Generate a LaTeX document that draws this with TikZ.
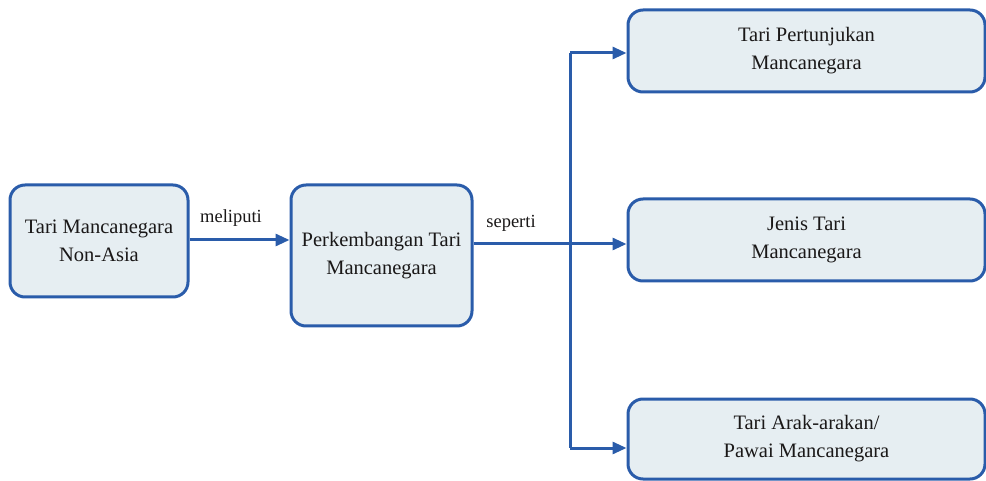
\documentclass[tikz,border=0pt]{standalone}
\usepackage{fontspec}
\setmainfont{Liberation Serif}
\usetikzlibrary{arrows.meta}
\definecolor{boxline}{HTML}{2A5CAA}
\definecolor{boxfill}{HTML}{E6EEF2}
\definecolor{txt}{HTML}{1A1818}
\begin{document}
\begin{tikzpicture}[x=1pt,y=-1pt,
  box/.style={draw=boxline, fill=boxfill, line width=3pt, rounded corners=15pt,
    align=center, text=txt, inner sep=0pt,
    font=\fontsize{20.5}{28}\selectfont},
  link/.style={draw=boxline, line width=3pt,
    -{Triangle[length=14pt,width=12pt]}},
  trunk/.style={draw=boxline, line width=3pt},
  lbl/.style={text=txt, font=\fontsize{18.5}{22}\selectfont}]
\useasboundingbox (0,0) rectangle (986,481);
% boxes
\node[box, minimum width=178pt, minimum height=112pt] (src) at (99,241)
  {Tari Mancanegara\\Non-Asia};
\node[box, minimum width=181pt, minimum height=141pt] (dev) at (381.5,255.5)
  {Perkembangan Tari\\Mancanegara};
\node[box, minimum width=357pt, minimum height=82pt] (c1) at (806.5,51)
  {Tari Pertunjukan\\Mancanegara};
\node[box, minimum width=357pt, minimum height=82pt] (c2) at (806.5,240)
  {Jenis Tari\\Mancanegara};
\node[box, minimum width=357pt, minimum height=80pt] (c3) at (806.5,439)
  {Tari Arak-arakan/\\Pawai Mancanegara};
% connectors
\draw[link] (src.east |- 0,240) -- (dev.west |- 0,240);
\node[lbl] (l1) at (231,218) {meliputi};
\coordinate (fork) at (570,244);
\coordinate (top) at (570,53);
\coordinate (bot) at (570,448);
\draw[trunk] (dev.east |- fork) -- (fork);
\draw[trunk] (top) -- (bot);
\draw[link] (top) -- (c1.west |- top);
\draw[link] (fork) -- (c2.west |- fork);
\draw[link] (bot) -- (c3.west |- bot);
\node[lbl] (l2) at (511,223) {seperti};
\end{tikzpicture}
\end{document}
